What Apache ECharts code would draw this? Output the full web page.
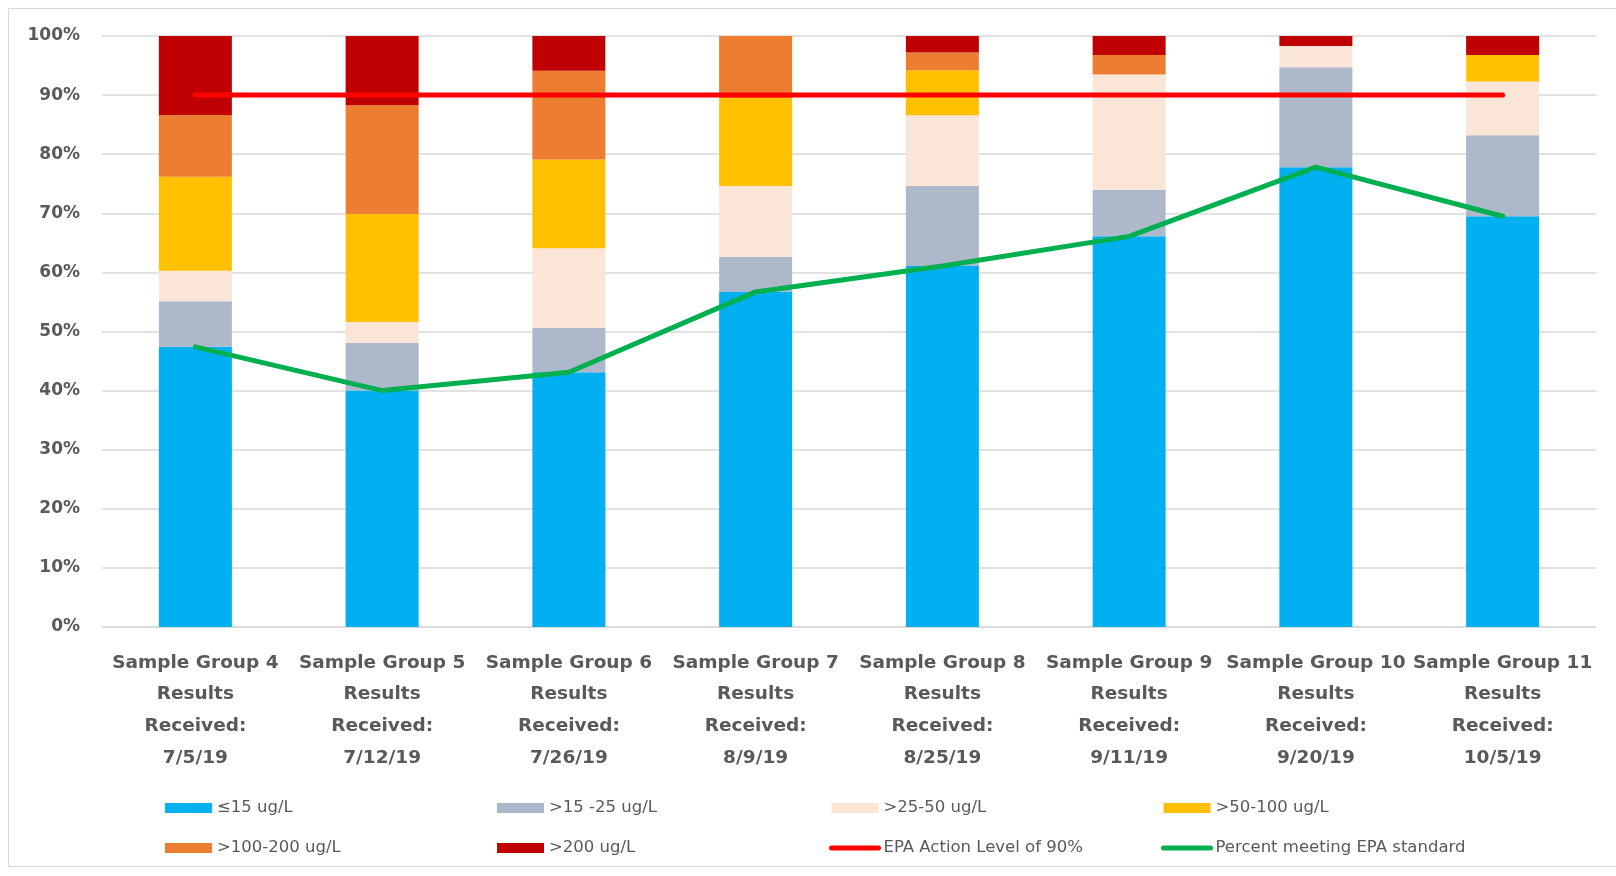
<!DOCTYPE html>
<html>
<head>
<meta charset="utf-8">
<title>Sample Group Results</title>
<script src="https://cdn.jsdelivr.net/npm/echarts/dist/echarts.min.js"></script>
<style>
  html, body { margin: 0; padding: 0; background: #fff; }
  #chart { width: 1616px; height: 876px; }
</style>
</head>
<body>
<div id="chart"></div>
<script>
// category labels
const groups = ['Sample Group 4', 'Sample Group 5', 'Sample Group 6', 'Sample Group 7',
  'Sample Group 8', 'Sample Group 9', 'Sample Group 10', 'Sample Group 11']
const dates = ['7/5/19', '7/12/19', '7/26/19', '8/9/19', '8/25/19', '9/11/19', '9/20/19', '10/5/19']

// share of samples in each range (%)
const le15 = [47.4, 40.0, 43.1, 56.7, 61.1, 66.1, 77.8, 69.5]
const r15to25 = [7.7, 8.1, 7.5, 5.9, 13.5, 7.9, 16.9, 13.7]
const r25to50 = [5.2, 3.5, 13.5, 12.0, 12.0, 19.5, 3.6, 9.1]
const r50to100 = [15.9, 18.3, 15.0, 14.9, 7.6, 0, 0, 4.5]
const r100to200 = [10.4, 18.4, 15.0, 10.5, 3.0, 3.3, 0, 0]
const gt200 = [13.4, 11.7, 5.9, 0, 2.8, 3.2, 1.7, 3.2]

// lines
const epaLevel = [90, 90, 90, 90, 90, 90, 90, 90]
const pctMeeting = [47.4, 40.0, 43.1, 56.7, 61.1, 66.1, 77.8, 69.5]

const yTicks = [0, 10, 20, 30, 40, 50, 60, 70, 80, 90, 100]

const categories = groups.map((g, i) => g + '\nResults\nReceived:\n' + dates[i])

const textGray = '#595959'
const gridGray = '#d9d9d9'

function barSeries(name, data, color) {
  return {
    name: name,
    type: 'bar',
    stack: 'total',
    barWidth: 73,
    itemStyle: { color: color },
    data: data
  }
}

// legend entries: bars get a plain box, lines a thick stroke with no marker
function barItem(name) {
  return { name: name, icon: 'rect' }
}
function lineItem(name) {
  return { name: name, itemStyle: { opacity: 0 }, lineStyle: { width: 5, cap: 'round' } }
}

function legendCol(left, items) {
  return {
    orient: 'vertical',
    left: left,
    top: 793,
    itemWidth: 47,
    itemHeight: 10,
    itemGap: 20,
    textStyle: {
      color: textGray,
      fontFamily: 'DejaVu Sans',
      fontSize: 16.5,
      lineHeight: 20
    },
    data: items
  }
}

const chart = echarts.init(document.getElementById('chart'))
chart.setOption({
  animation: false,
  backgroundColor: '#fff',
  graphic: [{
    type: 'rect',
    shape: { x: 8.5, y: 8.5, width: 1620, height: 858 },
    style: { fill: 'none', stroke: gridGray, lineWidth: 1 },
    silent: true
  }],
  grid: {
    left: 102,
    right: 20,
    top: 36,
    bottom: 249
  },
  legend: [
    legendCol(160, [barItem('≤15 ug/L'), barItem('>100-200 ug/L')]),
    legendCol(492, [barItem('>15 -25 ug/L'), barItem('>200 ug/L')]),
    legendCol(824, [barItem('>25-50 ug/L'), lineItem('EPA Action Level of 90%')]),
    legendCol(1156, [barItem('>50-100 ug/L'), lineItem('Percent meeting EPA standard')])
  ],
  xAxis: {
    type: 'category',
    data: categories,
    axisLine: { lineStyle: { color: gridGray, width: 1.5 } },
    axisTick: { show: false },
    axisLabel: {
      interval: 0,
      margin: 20,
      color: textGray,
      fontFamily: 'DejaVu Sans',
      fontWeight: 'bold',
      fontSize: 18.5,
      lineHeight: 31.7,
      align: 'center'
    }
  },
  yAxis: {
    type: 'value',
    min: yTicks[0],
    max: yTicks[yTicks.length - 1],
    interval: 10,
    axisLine: { show: false },
    axisTick: { show: false },
    splitLine: { lineStyle: { color: gridGray, width: 1.5 } },
    axisLabel: {
      margin: 22,
      color: textGray,
      fontFamily: 'DejaVu Sans',
      fontWeight: 'bold',
      fontSize: 17,
      formatter: '{value}%'
    }
  },
  series: [
    barSeries('≤15 ug/L', le15, '#00b0f0'),
    barSeries('>15 -25 ug/L', r15to25, '#adb9ca'),
    barSeries('>25-50 ug/L', r25to50, '#fbe5d6'),
    barSeries('>50-100 ug/L', r50to100, '#ffc000'),
    barSeries('>100-200 ug/L', r100to200, '#ed7d31'),
    barSeries('>200 ug/L', gt200, '#c00000'),
    {
      name: 'EPA Action Level of 90%',
      type: 'line',
      symbol: 'none',
      z: 5,
      lineStyle: { color: '#ff0000', width: 5, cap: 'round' },
      itemStyle: { color: '#ff0000' },
      data: epaLevel
    },
    {
      name: 'Percent meeting EPA standard',
      type: 'line',
      symbol: 'none',
      z: 5,
      lineStyle: { color: '#00b050', width: 5, cap: 'round', join: 'round' },
      itemStyle: { color: '#00b050' },
      data: pctMeeting
    }
  ]
})
</script>
</body>
</html>
